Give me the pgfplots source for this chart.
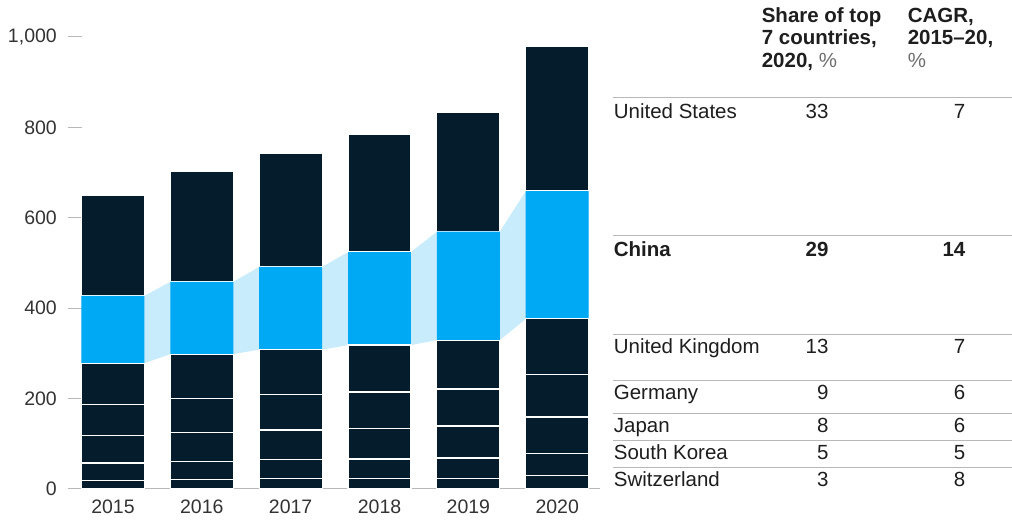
\documentclass[border=0pt]{standalone}
\usepackage{fontspec}
\setmainfont{Liberation Sans}
\usepackage{pgfplots}
\pgfplotsset{compat=1.18}
\definecolor{navy}{HTML}{051C2C}
\definecolor{cnblue}{HTML}{00A9F4}
\definecolor{bandc}{HTML}{C8ECFB}
\definecolor{txt}{HTML}{1E1E1E}
\definecolor{tickc}{HTML}{333333}
\definecolor{sepc}{HTML}{B8B8B8}
\definecolor{pct}{HTML}{6E6E6E}
\newcommand{\tf}{\fontsize{20.5}{22}\selectfont}
\begin{document}
\begin{tikzpicture}[x=1pt,y=1pt]
\pgfplotsset{common/.style={at={(68pt,34pt)}, anchor=south west, scale only axis,
  width=532pt, height=452pt, xmin=-0.506, xmax=5.478, ymin=0, ymax=1000}}
% connecting band for China
\begin{axis}[common, hide axis]
\addplot[fill=bandc, draw=none] coordinates {(-0.354,427)(0.354,427)(0.646,458)(1.354,458)(1.646,491)(2.354,491)(2.646,524)(3.354,524)(3.646,569)(4.354,569)(4.646,659)(5.354,659)
 (5.354,376)(4.646,376)(4.354,329)(3.646,329)(3.354,318)(2.646,318)(2.354,308)(1.646,308)(1.354,298)(0.646,298)(0.354,278)(-0.354,278)(-0.354,427)};
\end{axis}
% stacked bars
\begin{axis}[common, ybar stacked, bar width=63pt,
  axis lines*=left, axis line style={-},
  x axis line style={draw=sepc, line width=1pt},
  y axis line style={draw=none},
  xtick={0,1,2,3,4,5}, xticklabels={2015,2016,2017,2018,2019,2020},
  ytick={0,200,400,600,800,1000},
  xtick style={draw=none},
  ytick style={draw=sepc, line width=1pt},
  tick align=inside, major tick length=14pt,
  yticklabel style={anchor=east, inner sep=0pt, xshift=-11pt, font=\fontsize{19.5}{20}\selectfont, text=tickc},
  xticklabel style={anchor=north, inner sep=0pt, yshift=-11pt, font=\fontsize{19.5}{20}\selectfont, text=tickc},
  /pgf/number format/assume math mode=true,
  /pgf/number format/1000 sep={,},
  clip=false]
% Switzerland
\addplot[fill=navy, draw=white, line width=1.2pt] coordinates {(0,19)(1,21)(2,23)(3,23)(4,23)(5,29)};
% South Korea
\addplot[fill=navy, draw=white, line width=1.2pt] coordinates {(0,38)(1,40)(2,41)(3,43)(4,45)(5,49)};
% Japan
\addplot[fill=navy, draw=white, line width=1.2pt] coordinates {(0,61)(1,63)(2,66)(3,68)(4,71)(5,81)};
% Germany
\addplot[fill=navy, draw=white, line width=1.2pt] coordinates {(0,69)(1,75)(2,78)(3,80)(4,82)(5,94)};
% United Kingdom
\addplot[fill=navy, draw=white, line width=1.2pt] coordinates {(0,91)(1,99)(2,100)(3,104)(4,108)(5,123)};
% China
\addplot[fill=cnblue, draw=none] coordinates {(0,149)(1,160)(2,183)(3,206)(4,240)(5,283)};
% United States
\addplot[fill=navy, draw=white, line width=1.2pt] coordinates {(0,223)(1,245)(2,252)(3,261)(4,263)(5,321)};
\end{axis}
% table header
\begin{scope}[every node/.style={inner sep=0pt, font=\tf, text=txt}]
\node[anchor=base west] at (762,500.5) {\bfseries Share of top};
\node[anchor=base west] at (762,478) {\bfseries 7 countries,};
\node[anchor=base west] at (762,455) {\bfseries 2020, \textcolor{pct}{\mdseries\%}};
\node[anchor=base west] at (908,500.5) {\bfseries CAGR,};
\node[anchor=base west] at (908,478) {\bfseries 2015\textendash 20,};
\node[anchor=base west] at (908,455) {\textcolor{pct}{\%}};
% rules
\foreach \yy in {425.3,287.3,188.7,142,109.7,82.3,55.7}
  \draw[sepc, line width=1pt] (613,\yy) -- (1012,\yy);
% rows
\node[anchor=base west] at (614,404) {United States};
\node[anchor=base east] at (829,404) {33};
\node[anchor=base east] at (966,404) {7};
\node[anchor=base west] at (614,266.5) {\bfseries China};
\node[anchor=base east] at (829,266.5) {\bfseries 29};
\node[anchor=base east] at (966,266.5) {\bfseries 14};
\node[anchor=base west] at (614,169.5) {United Kingdom};
\node[anchor=base east] at (829,169.5) {13};
\node[anchor=base east] at (966,169.5) {7};
\node[anchor=base west] at (614,123) {Germany};
\node[anchor=base east] at (829,123) {9};
\node[anchor=base east] at (966,123) {6};
\node[anchor=base west] at (614,90.5) {Japan};
\node[anchor=base east] at (829,90.5) {8};
\node[anchor=base east] at (966,90.5) {6};
\node[anchor=base west] at (614,63) {South Korea};
\node[anchor=base east] at (829,63) {5};
\node[anchor=base east] at (966,63) {5};
\node[anchor=base west] at (614,36) {Switzerland};
\node[anchor=base east] at (829,36) {3};
\node[anchor=base east] at (966,36) {8};
\end{scope}
\path[use as bounding box] (0,0) rectangle (1012,523);
\end{tikzpicture}
\end{document}
